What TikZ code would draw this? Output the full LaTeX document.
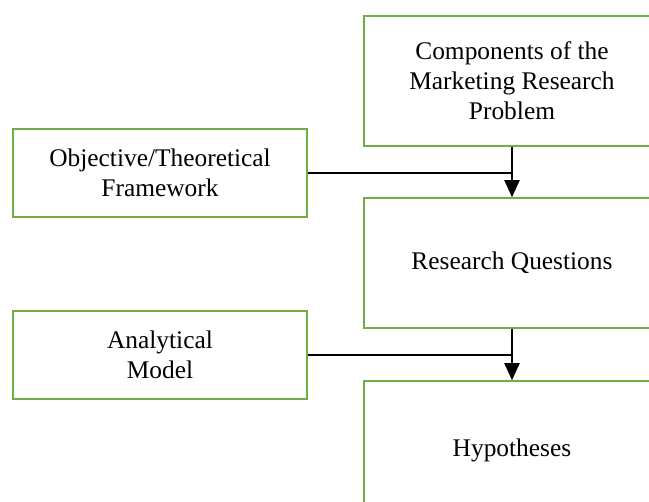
\documentclass[tikz,border=0pt]{standalone}
\usepackage{fontspec}
\setmainfont{Liberation Serif}
\usetikzlibrary{arrows.meta}
\definecolor{boxgreen}{RGB}{112,173,71}
\tikzset{
  box/.style={draw=boxgreen, line width=1.5pt, fill=white, align=center,
    inner sep=0pt, font=\fontsize{25.4}{30}\selectfont, text=black},
  mainbox/.style={box, minimum width=296pt, minimum height=130pt},
  sidebox/.style={box, minimum width=294pt, minimum height=88pt},
  link/.style={line width=2pt, black},
  flow/.style={link, -{Triangle[length=17pt, width=15pt]}}
}
\begin{document}
\begin{tikzpicture}[x=1pt, y=-1pt]
  \useasboundingbox (0,0) rectangle (649,502);
  \fill[white] (0,0) rectangle (649,502);
  \begin{scope}
    \clip (0,0) rectangle (649,502);
    % main column
    \node[mainbox] (comp) at (512,81) {Components of the\\Marketing Research\\Problem};
    \node[mainbox] (rq) at (512,263) {Research Questions};
    \node[mainbox, minimum height=138pt] (hyp) at (512,450) {Hypotheses};
    % side inputs
    \node[sidebox] (obj) at (160,173) {Objective/Theoretical\\Framework};
    \node[sidebox] (ana) at (160,355) {Analytical\\Model};
    % connectors
    \draw[flow] (comp.south) -- (rq.north);
    \draw[flow] (rq.south) -- (hyp.north);
    \draw[link] (obj.east) -- (obj.east -| comp.south);
    \draw[link] (ana.east) -- (ana.east -| rq.south);
  \end{scope}
\end{tikzpicture}
\end{document}
